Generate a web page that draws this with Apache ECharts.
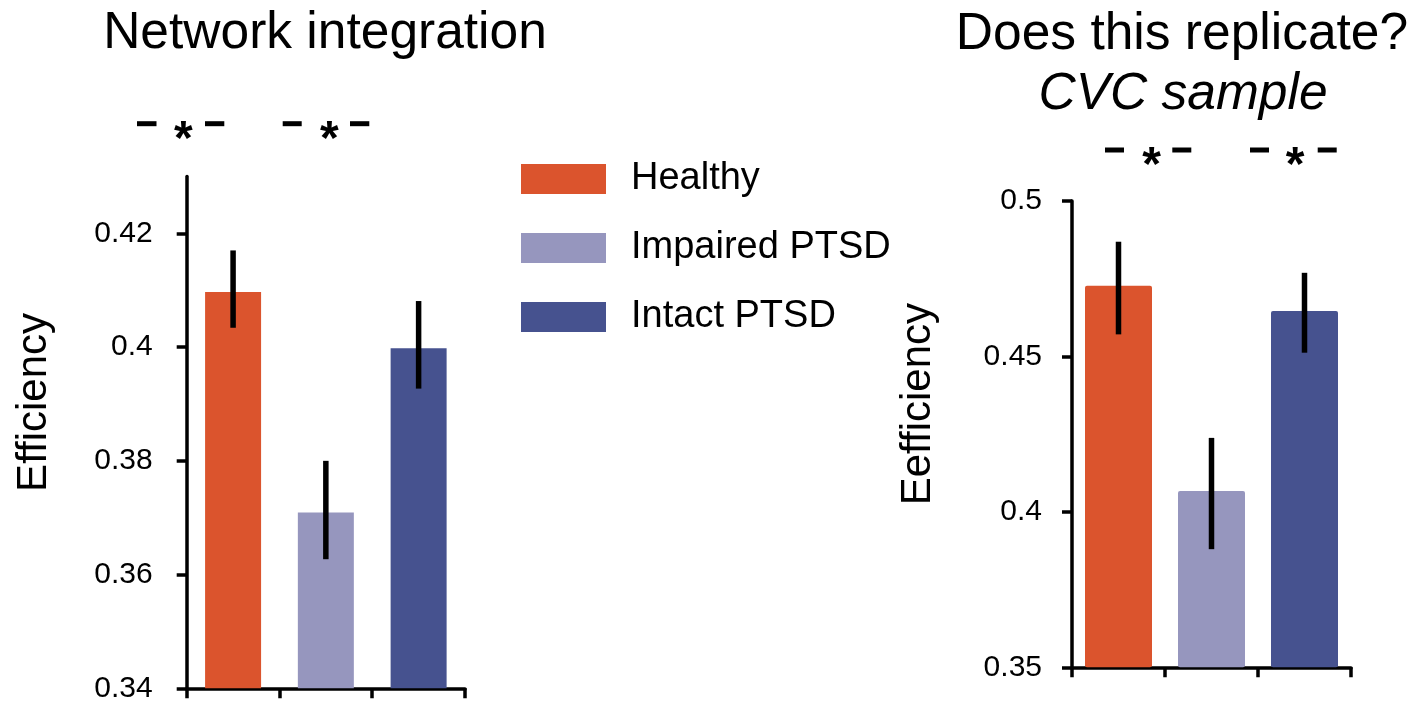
<!DOCTYPE html>
<html>
<head>
<meta charset="utf-8">
<script src="https://cdn.jsdelivr.net/npm/echarts@6/dist/echarts.min.js"></script>
<style>html,body{margin:0;padding:0;background:#fff}#c{width:1413px;height:704px}</style>
</head>
<body>
<div id="c"></div>
<script>
// ---- data ----
const categories = ['Healthy', 'Impaired PTSD', 'Intact PTSD'];
const leftMeans = [0.4097, 0.3709, 0.3998];
const leftLow   = [0.4034, 0.3627, 0.3927];
const leftHigh  = [0.4170, 0.3800, 0.4081];
const rightMeans = [0.4727, 0.4067, 0.4646];
const rightLow   = [0.4571, 0.3880, 0.4512];
const rightHigh  = [0.4869, 0.4238, 0.4769];
const leftTicks  = [0.34, 0.36, 0.38, 0.40, 0.42];
const rightTicks = [0.35, 0.40, 0.45, 0.50];
const leftTitle = 'Network integration';
const rightTitle = 'Does this replicate?';
const rightSubtitle = 'CVC sample';
const leftYName = 'Efficiency';
const rightYName = 'Eefficiency';

// ---- styles ----
const colors = ['#DB542D', '#9696BE', '#46528F'];
const FONT = '"Liberation Sans", Arial, sans-serif';
const AX = 3.5;

const chart = echarts.init(document.getElementById('c'));

function xAxisCfg(gi) {
  return {
    type: 'category', gridIndex: gi, data: categories,
    axisLine: { lineStyle: { color: '#000', width: AX } },
    axisTick: { show: true, interval: 0, length: 10, lineStyle: { color: '#000', width: AX } },
    axisLabel: { show: false, interval: 0 },
    splitLine: { show: false }
  };
}
function yAxisCfg(gi, min, max, ticks, name, gap, margin) {
  return {
    type: 'value', gridIndex: gi, min: min, max: max,
    name: name, nameLocation: 'middle', nameRotate: 90, nameGap: gap,
    nameTextStyle: { fontSize: 42, fontFamily: FONT, color: '#000', padding: [0, 0, 0, 60] },
    axisLine: { show: true, lineStyle: { color: '#000', width: AX } },
    axisTick: { show: true, length: 10, customValues: ticks, lineStyle: { color: '#000', width: AX } },
    axisLabel: { customValues: ticks, margin: margin, fontSize: 30, fontFamily: FONT, color: '#000',
      formatter: v => String(+(+v).toFixed(2)) },
    splitLine: { show: false }
  };
}
function barSeries(gi, means, bw, radius) {
  return categories.map((name, k) => ({
    type: 'bar', name: name, xAxisIndex: gi, yAxisIndex: gi,
    barWidth: bw, barGap: '-100%',
    itemStyle: { color: colors[k], borderRadius: radius },
    data: means.map((v, i) => (i === k ? v : '-'))
  }));
}
function errSeries(gi, low, high) {
  return {
    type: 'custom', xAxisIndex: gi, yAxisIndex: gi, z: 10,
    data: categories.map((c, i) => [i, low[i], high[i]]),
    encode: { x: 0, y: [1, 2] },
    renderItem: (params, api) => {
      const p1 = api.coord([api.value(0), api.value(1)]);
      const p2 = api.coord([api.value(0), api.value(2)]);
      return { type: 'line', shape: { x1: p1[0], y1: p1[1], x2: p2[0], y2: p2[1] },
        style: { stroke: '#000', lineWidth: 5.5 } };
    }
  };
}
function txt(x, y, s, size, extra) {
  return { type: 'text', x: x, y: y, silent: true,
    style: Object.assign({ text: s, fontSize: size, fontFamily: FONT, fill: '#000',
      align: 'center', verticalAlign: 'middle' }, extra || {}) };
}
function dash(x1, x2, y) {
  return { type: 'rect', silent: true, shape: { x: x1, y: y - 2.5, width: x2 - x1, height: 5 }, style: { fill: '#000' } };
}
const STAR = { fontWeight: 'bold' };

const option = {
  animation: false,
  backgroundColor: '#fff',
  grid: [
    { left: 186.7, top: 176.5, width: 278.3, height: 511.8, outerBoundsMode: 'none', containLabel: false },
    { left: 1072, top: 201, width: 279, height: 466.3, outerBoundsMode: 'none', containLabel: false }
  ],
  xAxis: [xAxisCfg(0), xAxisCfg(1)],
  yAxis: [
    yAxisCfg(0, 0.34, 0.43, leftTicks, leftYName, 131, 34),
    yAxisCfg(1, 0.35, 0.50, rightTicks, rightYName, 133, 30)
  ],
  legend: {
    orient: 'vertical', left: 521, top: 160, padding: 0,
    itemWidth: 85, itemHeight: 30, itemGap: 31, icon: 'rect',
    selectedMode: false, data: categories,
    textStyle: { fontSize: 38, fontFamily: FONT, color: '#000', padding: [0, 0, 0, 20] }
  },
  series: [].concat(
    barSeries(0, leftMeans, 56, 0),
    [errSeries(0, leftLow, leftHigh)],
    barSeries(1, rightMeans, 67, 2),
    [errSeries(1, rightLow, rightHigh)]
  ),
  graphic: [
    txt(325, 34, leftTitle, 51.5),
    txt(1182, 35, rightTitle, 51.5),
    txt(1183, 95, rightSubtitle, 51.5, { fontStyle: 'italic' }),
    dash(137, 156.5, 123.7), txt(183.3, 140.4, '*', 48, STAR), dash(205, 224.3, 123.7),
    dash(282.7, 301.7, 123.7), txt(329.3, 140.4, '*', 48, STAR), dash(350, 369.3, 123.7),
    dash(1105, 1124, 150), txt(1151.7, 166.9, '*', 48, STAR), dash(1172.3, 1191.3, 150),
    dash(1250, 1269, 150), txt(1295, 166.9, '*', 48, STAR), dash(1317.7, 1336.7, 150)
  ]
};
chart.setOption(option);
</script>
</body>
</html>
